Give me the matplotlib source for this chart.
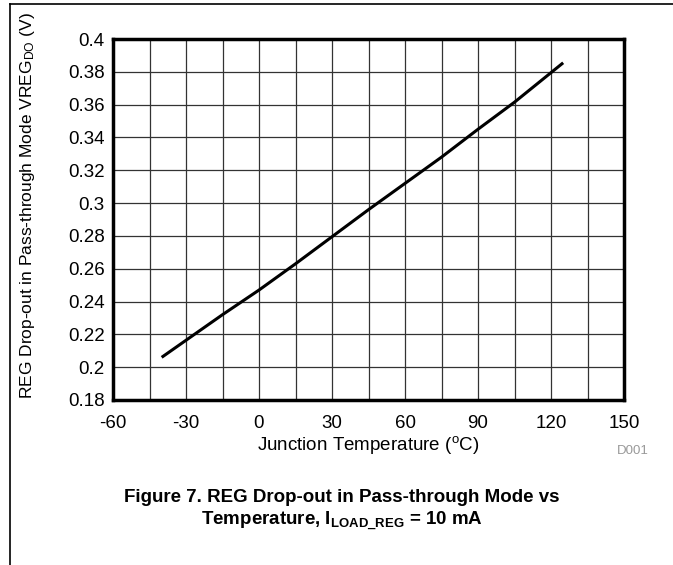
import numpy as np
import matplotlib
matplotlib.use("Agg")
import matplotlib.pyplot as plt
from matplotlib.lines import Line2D

plt.rcParams['font.family'] = ['Liberation Sans', 'DejaVu Sans']
plt.rcParams['mathtext.fontset'] = 'custom'
plt.rcParams['mathtext.rm'] = 'Liberation Sans'
plt.rcParams['mathtext.bf'] = 'Liberation Sans:bold'
plt.rcParams['axes.unicode_minus'] = False

# Junction temperature (°C) vs drop-out voltage (V)
temp_c = [-40, -15, 0, 15, 30, 45, 60, 75, 90, 105, 120, 125]
vreg_do = [0.206, 0.232, 0.247, 0.263, 0.2795, 0.296, 0.312, 0.328, 0.345, 0.3615, 0.3795, 0.3855]

x_ticks = [-60, -30, 0, 30, 60, 90, 120, 150]
y_ticks = [0.18, 0.2, 0.22, 0.24, 0.26, 0.28, 0.3, 0.32, 0.34, 0.36, 0.38, 0.4]

W, H = 673, 565
fig = plt.figure(figsize=(W / 100, H / 100), dpi=100)
ax = fig.add_axes([113 / W, 1 - 400 / H, (624 - 113) / W, (400 - 39) / H])

ax.plot(temp_c, vreg_do, color='black', lw=2.2, solid_capstyle='butt')

ax.set_xlim(-60, 150)
ax.set_ylim(0.18, 0.4)
ax.set_xticks(x_ticks)
ax.set_xticks(np.arange(-45, 150, 30), minor=True)
ax.set_yticks(y_ticks)
ax.set_yticklabels([f'{v:g}' for v in y_ticks])
ax.grid(True, which='both', color='#333333', lw=0.9)
ax.tick_params(which='both', length=0, labelsize=13.5)
ax.tick_params(axis='x', pad=11)
ax.tick_params(axis='y', pad=6)
for s in ax.spines.values():
    s.set_linewidth(2.5)
    s.set_zorder(5)

ax.set_xlabel('Junction Temperature ($\\mathregular{^{o}}$C)', fontsize=13.5, labelpad=1)
fig.text(28 / W, 1 - 206 / H, 'REG Drop-out in Pass-through Mode VREG$\\mathregular{_{DO}}$ (V)',
         rotation=90, ha='center', va='center', fontsize=12.5)

fig.text(633 / W, 1 - 451 / H, 'D001', color='#999999', fontsize=9.5, ha='center', va='center')

fig.text(342 / W, 1 - 497 / H, 'Figure 7. REG Drop-out in Pass-through Mode vs',
         ha='center', va='center', fontsize=13.5, fontweight='bold')
fig.text(342 / W, 1 - 521 / H, 'Temperature, I$\\mathregular{_{LOAD\\_REG}}$ = 10 mA',
         ha='center', va='center', fontsize=13.5, fontweight='bold')

# page frame lines (top and left)
fig.add_artist(Line2D([10 / W, 1], [1 - 4 / H, 1 - 4 / H], color='black', lw=1.2))
fig.add_artist(Line2D([10 / W, 10 / W], [0, 1 - 4 / H], color='black', lw=1.2))

fig.savefig('out.png', dpi=100)
